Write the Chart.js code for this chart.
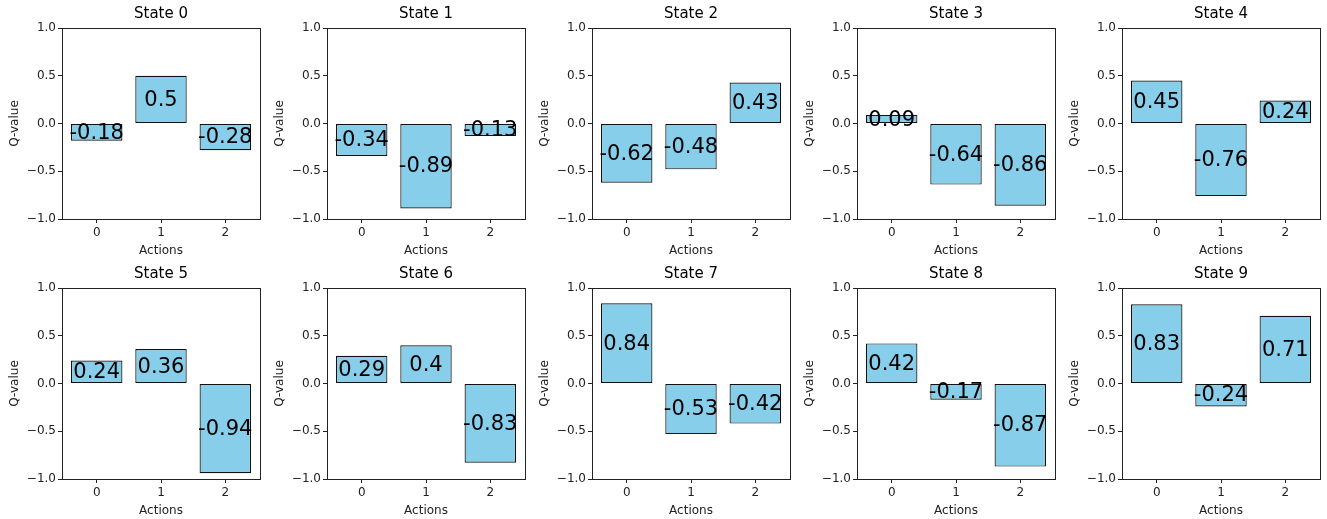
<!DOCTYPE html>
<html>
<head>
<meta charset="utf-8">
<script src="https://cdn.jsdelivr.net/npm/chart.js@4/dist/chart.umd.min.js"></script>
<style>
  html, body { margin: 0; padding: 0; background: #fff; overflow: hidden; }
  #wrap { position: relative; width: 1327px; height: 519px; }
  canvas { position: absolute; }
</style>
</head>
<body>
<div id="wrap"></div>
<script>
// ---- Data ----
const actions = [0, 1, 2];
const stateTitles = ['State 0','State 1','State 2','State 3','State 4','State 5','State 6','State 7','State 8','State 9'];
const state0 = [-0.18, 0.5, -0.28];
const state1 = [-0.34, -0.89, -0.13];
const state2 = [-0.62, -0.48, 0.43];
const state3 = [0.09, -0.64, -0.86];
const state4 = [0.45, -0.76, 0.24];
const state5 = [0.24, 0.36, -0.94];
const state6 = [0.29, 0.4, -0.83];
const state7 = [0.84, -0.53, -0.42];
const state8 = [0.42, -0.17, -0.87];
const state9 = [0.83, -0.24, 0.71];
const yTickValues = [-1, -0.5, 0, 0.5, 1];
const yTickLabels = ['\u22121.0', '\u22120.5', '0.0', '0.5', '1.0'];
const xTickLabels = ['0', '1', '2'];

const allStates = [state0, state1, state2, state3, state4, state5, state6, state7, state8, state9];

Chart.defaults.font.family = '"DejaVu Sans", sans-serif';
Chart.defaults.color = '#222';

const framePlugin = {
  id: 'frame',
  afterDatasetsDraw(chart) {
    const {ctx, chartArea: a} = chart;
    ctx.save();
    ctx.strokeStyle = '#222';
    ctx.lineWidth = 1;
    ctx.strokeRect(Math.round(a.left) + 0.5, Math.round(a.top) + 0.5,
                   Math.round(a.right - a.left), Math.round(a.bottom - a.top));
    ctx.restore();
  }
};

const valueLabelPlugin = {
  id: 'valueLabels',
  afterDatasetsDraw(chart) {
    const {ctx} = chart;
    const meta = chart.getDatasetMeta(0);
    const yScale = chart.scales.y;
    const vals = chart.data.datasets[0].data;
    ctx.save();
    ctx.font = '21px "DejaVu Sans", sans-serif';
    ctx.fillStyle = '#000';
    ctx.textAlign = 'center';
    ctx.textBaseline = 'middle';
    meta.data.forEach((bar, i) => {
      const v = vals[i].y;
      ctx.fillText(String(v), bar.x, yScale.getPixelForValue(v / 2) + 1);
    });
    ctx.restore();
  }
};

const wrap = document.getElementById('wrap');
const W = 265, H = 260;

allStates.forEach((vals, idx) => {
  const col = idx % 5, row = Math.floor(idx / 5);
  const cv = document.createElement('canvas');
  cv.width = W; cv.height = H;
  cv.style.left = (col * W) + 'px';
  cv.style.top = (row * H) + 'px';
  cv.style.width = W + 'px';
  cv.style.height = H + 'px';
  wrap.appendChild(cv);

  new Chart(cv.getContext('2d'), {
    type: 'bar',
    data: {
      datasets: [{
        data: actions.map((a, i) => ({x: a, y: vals[i]})),
        backgroundColor: '#87CEEB',
        borderColor: '#111',
        borderWidth: 1.2,
        borderSkipped: false,
        categoryPercentage: 1,
        barPercentage: 0.8
      }]
    },
    options: {
      responsive: false,
      animation: false,
      devicePixelRatio: 1,
      layout: { padding: { left: 0, right: 5, top: 0, bottom: 0 } },
      plugins: {
        legend: { display: false },
        tooltip: { enabled: false },
        title: {
          display: true,
          fullSize: false,
          text: stateTitles[idx],
          color: '#000',
          font: { size: 15, weight: 'normal' },
          padding: { top: 5, bottom: 5 }
        }
      },
      scales: {
        x: {
          type: 'linear',
          min: -0.54,
          max: 2.54,
          offset: false,
          afterBuildTicks(scale) { scale.ticks = actions.map(v => ({value: v})); },
          afterFit(scale) { scale.height = 41; },
          ticks: {
            autoSkip: false,
            maxRotation: 0,
            padding: 3,
            color: '#222',
            font: { size: 12 },
            callback: (v) => xTickLabels[actions.indexOf(v)]
          },
          grid: { display: true, drawOnChartArea: false, drawTicks: true, tickLength: 4, color: '#222', offset: false },
          border: { display: false },
          title: { display: true, text: 'Actions', color: '#222', font: { size: 12 }, padding: { top: 0, bottom: 2 } }
        },
        y: {
          min: -1,
          max: 1,
          afterBuildTicks(scale) { scale.ticks = yTickValues.map(v => ({value: v})); },
          afterFit(scale) { scale.width = 62; },
          ticks: {
            padding: 2,
            color: '#222',
            font: { size: 12 },
            callback: (v) => yTickLabels[yTickValues.indexOf(v)]
          },
          grid: { display: true, drawOnChartArea: false, drawTicks: true, tickLength: 4, color: '#222' },
          border: { display: false },
          title: { display: true, text: 'Q-value', color: '#222', font: { size: 12 }, padding: { top: 8, bottom: 0 } }
        }
      }
    },
    plugins: [framePlugin, valueLabelPlugin]
  });
});
</script>
</body>
</html>
